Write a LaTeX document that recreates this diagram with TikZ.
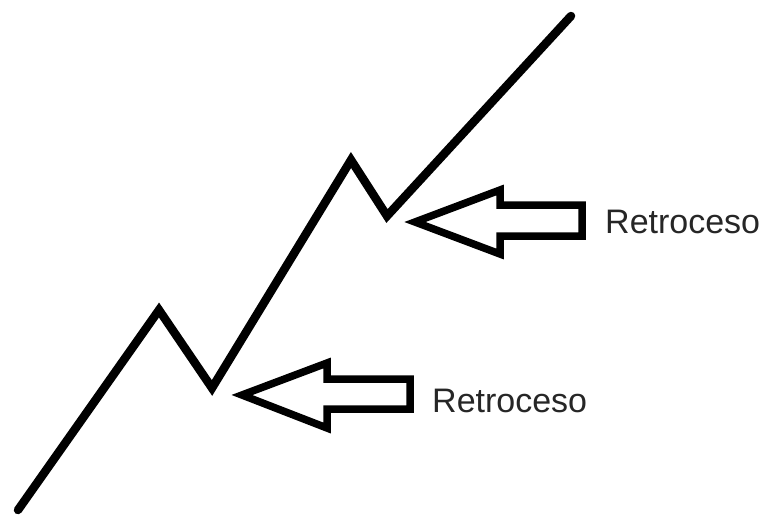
\documentclass[tikz,border=0pt]{standalone}
\usepackage{fontspec}
\setmainfont{Liberation Sans}
\begin{document}
\begin{tikzpicture}[x=1pt,y=-1pt,
  zig/.style={line width=8.5pt,line join=miter,line cap=round},
  hollowarrow/.style={line width=7.5pt,line join=miter},
  lbl/.style={font=\fontsize{34}{37}\selectfont,text=black!85,anchor=west,inner sep=0pt}]
\useasboundingbox (0,0) rectangle (765,517);
% zigzag
\coordinate (s) at (18,510);
\coordinate (p1) at (159,310);
\coordinate (t1) at (212,388);
\coordinate (p2) at (351,160);
\coordinate (t2) at (387,216);
\coordinate (e) at (571,16);
\draw[zig] (s) -- (p1) -- (t1) -- (p2) -- (t2) -- (e);
% upper arrow
\draw[hollowarrow] (415,222) -- (500,190) -- (500,205) -- (582,205) -- (582,236) -- (500,236) -- (500,254) -- cycle;
\node[lbl] (r1) at (605,222) {Retroceso};
% lower arrow
\draw[hollowarrow] (242,395) -- (327,363) -- (327,379) -- (410,379) -- (410,409) -- (327,409) -- (327,428) -- cycle;
\node[lbl] (r2) at (432,401) {Retroceso};
\end{tikzpicture}
\end{document}
